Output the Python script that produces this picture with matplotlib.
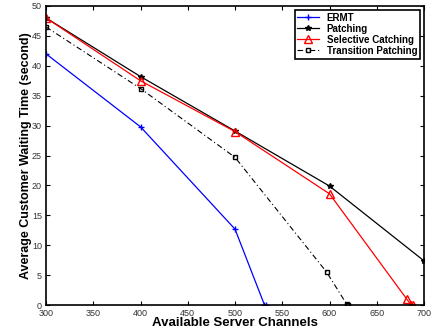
import matplotlib
matplotlib.use("Agg")
import matplotlib.pyplot as plt

plt.rcParams['font.family'] = ['Liberation Sans', 'DejaVu Sans']

# data
ermt_x = [300, 400, 500, 531, 533]
ermt_y = [42, 29.8, 12.7, 0.1, 0]
patch_x = [300, 400, 500, 600, 700]
patch_y = [48, 38.2, 29.1, 19.9, 7.4]
sel_x = [300, 400, 500, 600, 682, 686, 688]
sel_y = [48, 37.5, 29.0, 18.6, 0.95, 0.1, 0]
trans_x = [300, 400, 500, 597, 618, 620]
trans_y = [46.5, 36.2, 24.7, 5.5, 0.2, 0]

fig = plt.figure(figsize=(4.34, 3.32), dpi=100)
ax = fig.add_axes([0.106, 0.081, 0.871, 0.901])

ax.plot(ermt_x, ermt_y, color='blue', marker='+', ms=5, lw=0.9, label='ERMT')
ax.plot(patch_x, patch_y, color='black', marker='*', ms=4, lw=0.9, label='Patching')
ax.plot(sel_x, sel_y, color='red', marker='^', ms=5.5, mfc='none', lw=0.9, label='Selective Catching')
ax.plot(trans_x, trans_y, color='black', marker='s', ms=3.5, mfc='none', lw=0.8,
        dashes=(5, 2.5, 1, 2.5), label='Transition Patching')

ax.set_xlim(300, 700)
ax.set_ylim(0, 50)
ax.set_xticks(range(300, 701, 50))
ax.set_yticks(range(0, 51, 5))
ax.tick_params(direction='in', top=True, right=True, labelsize=6.5, length=3, width=0.8,
               labelcolor='#333333')
ax.tick_params(axis='x', pad=3)
ax.tick_params(axis='y', pad=3)
for s in ax.spines.values():
    s.set_linewidth(1.2)

ax.set_xlabel('Available Server Channels', fontsize=9.5, fontweight='bold', labelpad=-1)
ax.set_ylabel('Average Customer Waiting Time (second)', fontsize=9, fontweight='bold', labelpad=0)

leg = ax.legend(loc='upper right', prop={'weight': 'bold', 'size': 7},
                fancybox=False, edgecolor='black', framealpha=1, borderpad=0.3,
                labelspacing=0.1, handlelength=2.2, borderaxespad=0.4)
leg.get_frame().set_linewidth(1.2)

fig.savefig('out.png', dpi=100)
